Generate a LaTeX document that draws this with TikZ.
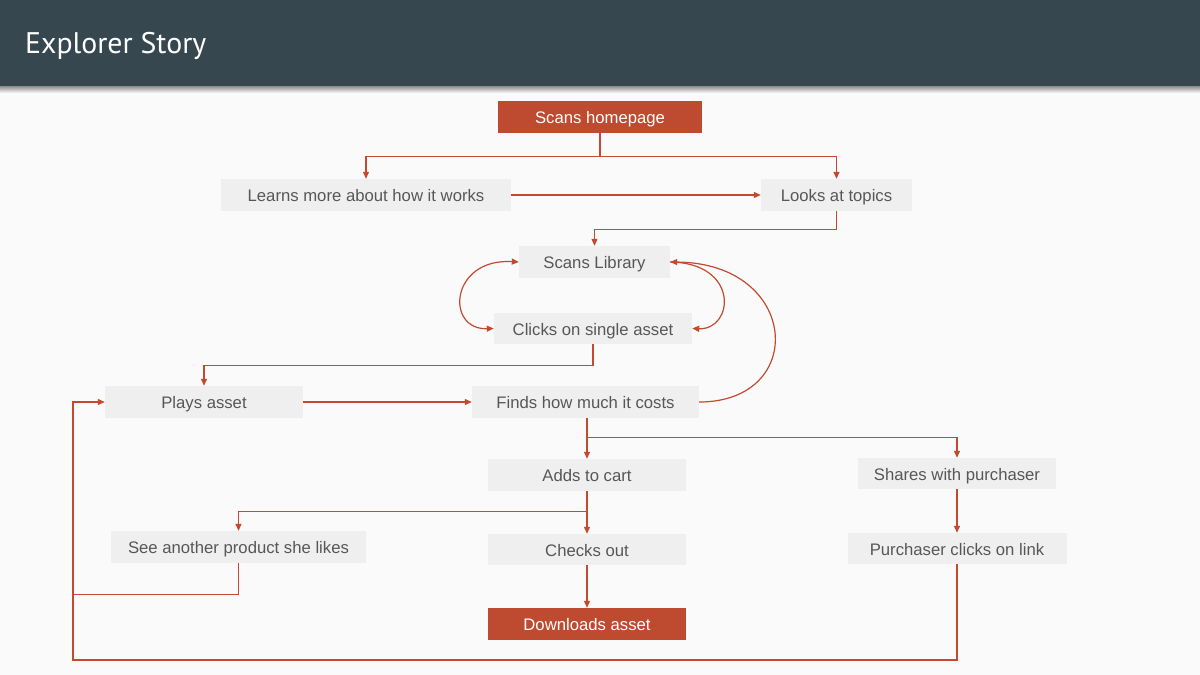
\documentclass[tikz,border=0pt]{standalone}
\usepackage{fontspec}
\setmainfont{Liberation Sans}
\newfontfamily\titlefont{PT Sans}
\usetikzlibrary{arrows.meta,calc}
\definecolor{hdr}{HTML}{37474F}
\definecolor{bg}{HTML}{FAFAFA}
\definecolor{redbox}{HTML}{BE4A30}
\definecolor{lnred}{HTML}{C4492F}
\definecolor{greybox}{HTML}{EFEFEF}
\definecolor{txt}{HTML}{575757}
\begin{document}
\begin{tikzpicture}[x=1pt,y=-1pt,
  box/.style={fill=greybox, text=txt, inner sep=0pt, text height=13.5pt, text depth=0.5pt, font=\fontsize{16.7}{19}\selectfont},
  redb/.style={fill=redbox, text=white, inner sep=0pt, text height=13.5pt, text depth=0.5pt, font=\fontsize{16.7}{19}\selectfont},
  conn/.style={draw=lnred, line width=1.2pt},
  arr/.style={conn, -{Triangle[length=7pt,width=6pt]}},
  arrb/.style={conn, {Triangle[length=7pt,width=6pt]}-{Triangle[length=7pt,width=6pt]}}]
\useasboundingbox (0,0) rectangle (1200,675);
\fill[bg] (0,0) rectangle (1200,675);
\shade[top color=black!45, bottom color=bg] (0,86) rectangle (1200,93);
\fill[hdr] (0,0) rectangle (1200,86);
\node[anchor=base west, text=white, inner sep=0pt, font=\titlefont\fontsize{29.8}{34}\selectfont] (title) at (25,53) {Explorer Story};

\node[redb, minimum width=204, minimum height=32] (home) at (600,117) {Scans homepage};
\node[box, minimum width=290, minimum height=32] (learn) at (366,195) {Learns more about how it works};
\node[box, minimum width=151, minimum height=32] (topics) at (836.5,195) {Looks at topics};
\node[box, minimum width=151, minimum height=32] (lib) at (594.5,262) {Scans Library};
\node[box, minimum width=198, minimum height=31] (click) at (593,328.5) {Clicks on single asset};
\node[box, minimum width=198, minimum height=32] (plays) at (204,402) {Plays asset};
\node[box, minimum width=227, minimum height=32] (finds) at (585.5,402) {Finds how much it costs};
\node[box, minimum width=198, minimum height=32] (adds) at (587,475) {Adds to cart};
\node[box, minimum width=198, minimum height=31] (shares) at (957,473.5) {Shares with purchaser};
\node[box, minimum width=255, minimum height=32] (see) at (238.5,547) {See another product she likes};
\node[box, minimum width=198, minimum height=31] (checks) at (587,549.5) {Checks out};
\node[box, minimum width=219, minimum height=31] (purch) at (957,548.5) {Purchaser clicks on link};
\node[redb, minimum width=198, minimum height=32] (down) at (587,624) {Downloads asset};

\coordinate (lx) at (73,402);
\coordinate (bot) at (73,660);

\draw[arr] (home.south) -- ++(0,23) -| (learn.north);
\draw[arr] (home.south) -- ++(0,23) -| (topics.north);
\draw[arr] (learn.east) -- (topics.west);
\draw[arr] (topics.south) -- ++(0,18) -| (lib.north);
\draw[arrb] (lib.west) .. controls (450,258) and (445,330) .. (click.west);
\draw[arr] (lib.east) .. controls (740,263) and (734,330) .. (click.east);
\draw[arr] (finds.east) .. controls (808,402) and (800,263) .. (lib.east);
\draw[arr] (click.south) -- ++(0,21) -| (plays.north);
\draw[arr] (plays.east) -- (finds.west);
\draw[arr] (adds.north |- finds.south) -- (adds.north);
\draw[arr] (adds.north |- finds.south) -- ++(0,19) -| (shares.north);
\draw[arr] (adds.south) -- (checks.north);
\draw[arr] (adds.south) -- ++(0,20) -| (see.north);
\draw[arr] (checks.south) -- (down.north);
\draw[arr] (shares.south) -- (purch.north);
\draw[arr] (see.south) -- ++(0,31) -| (lx) -- (plays.west);
\draw[conn] (purch.south) |- (bot) -- (lx);
\end{tikzpicture}
\end{document}
